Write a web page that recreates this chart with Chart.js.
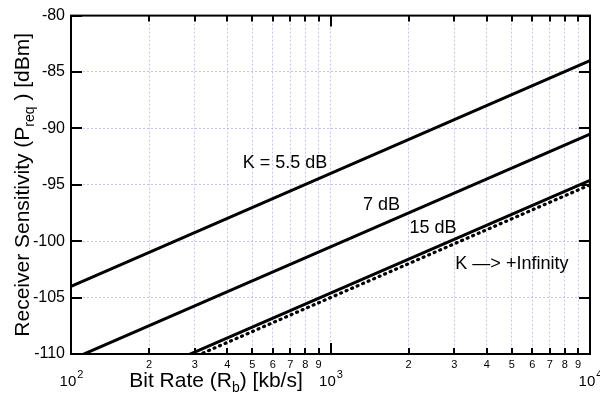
<!DOCTYPE html>
<html>
<head>
<meta charset="utf-8">
<script src="https://cdn.jsdelivr.net/npm/chart.js@4"></script>
<style>
  html, body { margin:0; padding:0; background:#fff; }
  #wrap { width:600px; height:401px; }
</style>
</head>
<body>
<div id="wrap"><canvas id="chart"></canvas></div>
<script>
//=========================================
// Data
//=========================================
const bitRate = [100, 10000];          // kb/s, line endpoints
const k55 = [-104, -84];
const k7 = [-110.5, -90.5];
const k15 = [-114.6, -94.6];
const kInf = [-115, -95];

const xTicks = [100,200,300,400,500,600,700,800,900,
                1000,2000,3000,4000,5000,6000,7000,8000,9000,10000];
const xTickLabels = ['10^2','2','3','4','5','6','7','8','9',
                     '10^3','2','3','4','5','6','7','8','9','10^4'];
const yTicks = [-110,-105,-100,-95,-90,-85,-80];

const noteText = ['K = 5.5 dB', '7 dB', '15 dB', 'K \u2014> +Infinity'];
const noteX = [668, 1572, 2483, 5000];
const noteY = [-93.1, -96.8, -98.8, -102];

const FONT = "Arial, 'Liberation Sans', sans-serif";
const gridColor = "rgba(175,175,235,0.75)";

function pts(ys){
    return bitRate.map((x,i) => ({x:x, y:ys[i]}));
}

//------------------------------------
// Custom drawing: box, inward ticks, labels
//------------------------------------
const decorPlugin = {
    id: "decor",
    afterDraw(chart){
        const ctx = chart.ctx;
        const a = chart.chartArea;
        const xs = chart.scales.x;
        const ys = chart.scales.y;
        ctx.save();

        // inward tick marks
        ctx.strokeStyle = "#000";
        ctx.lineWidth = 2;
        ctx.beginPath();
        xTicks.forEach((v,i) => {
            const px = Math.round(xs.getPixelForValue(v));
            const len = xTickLabels[i].indexOf('^') >= 0 ? 11 : 6;
            ctx.moveTo(px, a.bottom); ctx.lineTo(px, a.bottom - len);
            ctx.moveTo(px, a.top); ctx.lineTo(px, a.top + len);
        });
        yTicks.forEach(v => {
            const py = Math.round(ys.getPixelForValue(v));
            ctx.moveTo(a.left, py); ctx.lineTo(a.left + 11, py);
            ctx.moveTo(a.right, py); ctx.lineTo(a.right - 11, py);
        });
        ctx.stroke();

        // box
        ctx.lineWidth = 2;
        ctx.strokeRect(a.left, a.top, a.right - a.left, a.bottom - a.top);

        // x tick labels
        ctx.fillStyle = "#000";
        ctx.textBaseline = "alphabetic";
        xTicks.forEach((v,i) => {
            const px = xs.getPixelForValue(v);
            const lab = xTickLabels[i];
            if(lab.indexOf('^') >= 0){
                const parts = lab.split('^');
                ctx.font = "15px " + FONT;
                const w1 = ctx.measureText(parts[0]).width;
                ctx.font = "11px " + FONT;
                const w2 = ctx.measureText(parts[1]).width;
                const x0 = px - (w1 + w2) / 2;
                ctx.textAlign = "left";
                ctx.font = "15px " + FONT;
                ctx.fillText(parts[0], x0, a.bottom + 32);
                ctx.font = "11px " + FONT;
                ctx.fillText(parts[1], x0 + w1 + 1, a.bottom + 24);
            } else {
                ctx.font = "11px " + FONT;
                ctx.textAlign = "center";
                ctx.fillText(lab, px, a.bottom + 14);
            }
        });

        // x axis title with subscript
        const xt = [["Bit Rate (R", 21, 0], ["b", 14, 5], [") [kb/s]", 21, 0]];
        drawRich(ctx, xt, 216, a.bottom + 33);

        // y axis title, rotated, with subscript
        ctx.save();
        ctx.translate(29, (a.top + a.bottom) / 2);
        ctx.rotate(-Math.PI / 2);
        const yt = [["Receiver Sensitivity (P", 21, 0], ["req", 14, 5], [" ) [dBm]", 21, 0]];
        drawRich(ctx, yt, 0, 0);
        ctx.restore();

        // annotations
        ctx.font = "18px " + FONT;
        ctx.textAlign = "center";
        ctx.textBaseline = "middle";
        noteText.forEach((t,i) => {
            ctx.fillText(t, xs.getPixelForValue(noteX[i]), ys.getPixelForValue(noteY[i]));
        });

        ctx.restore();
    }
};

function drawRich(ctx, parts, cx, baseline){
    let total = 0;
    parts.forEach(p => { ctx.font = p[1] + "px " + FONT; total += ctx.measureText(p[0]).width; });
    let x = cx - total / 2;
    ctx.textAlign = "left";
    ctx.textBaseline = "alphabetic";
    parts.forEach(p => {
        ctx.font = p[1] + "px " + FONT;
        ctx.fillText(p[0], x, baseline + p[2]);
        x += ctx.measureText(p[0]).width;
    });
}

//------------------------------------
// Chart
//------------------------------------
const lineStyle = { borderColor:"#000", borderWidth:3, pointRadius:0, fill:false, tension:0 };

new Chart(document.getElementById("chart"), {
    type: "line",
    data: {
        datasets: [
            Object.assign({ label:"K = 5.5 dB", data:pts(k55) }, lineStyle),
            Object.assign({ label:"7 dB", data:pts(k7) }, lineStyle),
            Object.assign({ label:"15 dB", data:pts(k15) }, lineStyle),
            Object.assign({ label:"K -> +Infinity", data:pts(kInf),
                            borderDash:[1,5], borderCapStyle:"round" }, lineStyle,
                          { borderWidth:3.2 })
        ]
    },
    options: {
        responsive: true,
        maintainAspectRatio: false,
        animation: false,
        layout: { padding: { left:0, right:10, top:10, bottom:0 } },
        plugins: { legend:{ display:false }, tooltip:{ enabled:false } },
        scales: {
            x: {
                type: "logarithmic",
                min: 100,
                max: 10000,
                afterBuildTicks(scale){
                    scale.ticks = xTicks.map(v => ({ value:v }));
                },
                afterFit(scale){ scale.height = 47; },
                ticks: { display:false, autoSkip:false },
                grid: { color:gridColor, lineWidth:1, drawTicks:false },
                border: { display:false, dash:[2,2] }
            },
            y: {
                min: -110,
                max: -80,
                afterBuildTicks(scale){
                    scale.ticks = yTicks.map(v => ({ value:v }));
                },
                afterFit(scale){ scale.width = 71; },
                ticks: { color:"#000", font:{ size:16, family:FONT }, padding:6 },
                grid: { color:gridColor, lineWidth:1, drawTicks:false },
                border: { display:false, dash:[2,2] }
            }
        }
    },
    plugins: [decorPlugin]
});
</script>
</body>
</html>
